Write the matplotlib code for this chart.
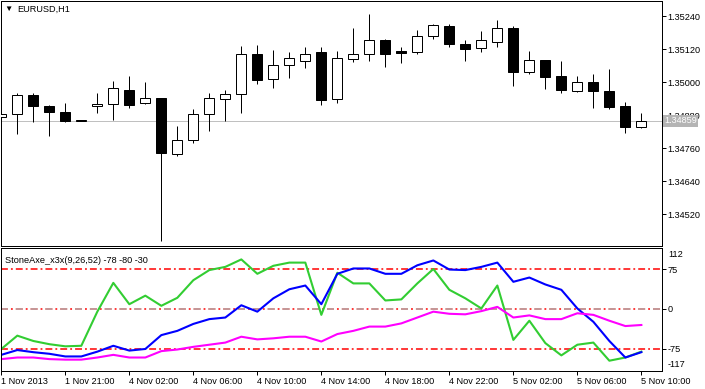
import matplotlib
matplotlib.use("Agg")
import matplotlib.pyplot as plt
import numpy as np

plt.rcParams['font.family'] = ['Liberation Sans', 'DejaVu Sans']

# EURUSD H1 candles (41 bars)
opens = [1.34872, 1.34883, 1.34953, 1.34913, 1.34891, 1.34860, 1.34912, 1.34919, 1.34973, 1.34923,
         1.34941, 1.34739, 1.34788, 1.34883, 1.34939, 1.34955, 1.35101, 1.35010, 1.35061, 1.35075,
         1.35108, 1.34937, 1.35085, 1.35104, 1.35153, 1.35113, 1.35108, 1.35166, 1.35204, 1.35138,
         1.35123, 1.35147, 1.35195, 1.35037, 1.35080, 1.35022, 1.34968, 1.35000, 1.34967, 1.34913,
         1.34837]
highs = [1.34884, 1.34959, 1.34959, 1.34916, 1.34925, 1.34862, 1.34961, 1.35004, 1.35023, 1.35000,
         1.34941, 1.34840, 1.34902, 1.34961, 1.34971, 1.35131, 1.35134, 1.35116, 1.35109, 1.35126,
         1.35126, 1.35113, 1.35196, 1.35247, 1.35155, 1.35127, 1.35189, 1.35212, 1.35211, 1.35153,
         1.35185, 1.35225, 1.35204, 1.35113, 1.35080, 1.35076, 1.35022, 1.35030, 1.35047, 1.34928,
         1.34887]
lows = [1.34870, 1.34813, 1.34856, 1.34804, 1.34856, 1.34860, 1.34888, 1.34862, 1.34907, 1.34919,
        1.34423, 1.34732, 1.34779, 1.34823, 1.34858, 1.34888, 1.34992, 1.34979, 1.35016, 1.35053,
        1.34915, 1.34923, 1.35074, 1.35077, 1.35056, 1.35070, 1.35101, 1.35155, 1.35128, 1.35077,
        1.35108, 1.35128, 1.34987, 1.35030, 1.34976, 1.34959, 1.34965, 1.34907, 1.34903, 1.34816,
        1.34834]
closes = [1.34883, 1.34953, 1.34914, 1.34892, 1.34859, 1.34861, 1.34920, 1.34977, 1.34917, 1.34941,
          1.34741, 1.34788, 1.34883, 1.34941, 1.34956, 1.35104, 1.35008, 1.35061, 1.35086, 1.35104,
          1.34936, 1.35086, 1.35104, 1.35152, 1.35103, 1.35107, 1.35166, 1.35207, 1.35137, 1.35121,
          1.35152, 1.35195, 1.35037, 1.35079, 1.35019, 1.34972, 1.35000, 1.34968, 1.34910, 1.34837,
          1.34859]

# StoneAxe_x3x buffers
green = [-75, -50, -60, -66, -70, -69, -5, 49, 9, 25, 6, 21, 54, 73, 79, 93,
         66, 81, 87, 87, -11, 68, 48, 48, 16, 18, 48, 75, 36, 20,
         1, 44, -58, -22, -64, -87, -67, -63, -97, -91, -80]
blue = [-86, -77, -81, -84, -89, -89, -80, -69, -78, -75, -49, -41, -28, -19, -16, 7,
        -5, 20, 37, 44, 9, 66, 76, 76, 66, 66, 82, 91, 74, 73,
        79, 87, 51, 59, 46, 36, 1, -24, -60, -91, -81]
magenta = [-94, -91, -91, -94, -95, -95, -91, -86, -91, -91, -79, -76, -71, -67, -63, -52,
           -57, -55, -52, -52, -61, -47, -41, -33, -33, -27, -16, -5, -9, -10,
           -4, 4, -16, -12, -19, -19, -8, -11, -22, -32, -30]

price_ticks = [1.35240, 1.35120, 1.35000, 1.34880, 1.34760, 1.34640, 1.34520]
time_labels = ['1 Nov 2013', '1 Nov 21:00', '4 Nov 02:00', '4 Nov 06:00', '4 Nov 10:00',
               '4 Nov 14:00', '4 Nov 18:00', '4 Nov 22:00', '5 Nov 02:00', '5 Nov 06:00',
               '5 Nov 10:00']
last_price = 1.34859

W, H = 705, 389
fig = plt.figure(figsize=(W / 100, H / 100), dpi=100)
px = 0.72  # one pixel in points
fs = 6.6

ax1 = fig.add_axes([1 / W, (H - 246) / H, 661 / W, 245 / H])
ax2 = fig.add_axes([1 / W, (H - 371) / H, 661 / W, 123 / H])

x = np.arange(len(opens))
o = np.array(opens); c = np.array(closes)
up = c >= o

ax1.axhline(last_price, color='#c0c0c0', lw=px, zorder=1, antialiased=False)
ax1.vlines(x, lows, highs, color='black', lw=px, zorder=2)
ax1.bar(x, np.maximum(np.abs(c - o), 1e-6), bottom=np.minimum(o, c), width=0.64,
        color=np.where(up, 'white', 'black'), edgecolor='black', lw=px, zorder=3)

ax1.set_xlim(-0.02, 41.29)
ax1.set_ylim(1.34404, 1.35295)
ax1.set_xticks([])
ax1.yaxis.tick_right()
ax1.set_yticks(price_ticks)
ax1.set_yticklabels([f'{p:.5f}' for p in price_ticks], fontsize=fs)
ax1.tick_params(axis='y', length=3, width=px, pad=1.2)
for s in ax1.spines.values():
    s.set_linewidth(px)

ax1.text(1.0 + 2 / 661, last_price, '1.34859', transform=ax1.get_yaxis_transform(),
         fontsize=fs, color='white', va='center', ha='left', zorder=10, clip_on=False,
         bbox=dict(boxstyle='square,pad=0.15', fc='#b4b4b4', ec='none'))
ax1.text(3 / 661, 0.965, '\u25bc', transform=ax1.transAxes, fontsize=6, va='center', ha='left')
ax1.text(16 / 661, 0.965, 'EURUSD,H1', transform=ax1.transAxes, fontsize=fs, va='center', ha='left')

# indicator panel
lw_lvl = 1.1
dashdot = (0, (4.5, 2, 1.2, 2))
ax2.axhline(75, color='#ff0000', lw=lw_lvl, ls=dashdot)
ax2.axhline(-75, color='#ff0000', lw=lw_lvl, ls=dashdot)
ax2.axhline(0, color='#ff0000', lw=lw_lvl, ls=dashdot)
ax2.axhline(0, color='#b4b4b4', lw=lw_lvl, ls=(0, (4.5, 5.2)))
ax2.plot(x, green, color='#32cd32', lw=1.5)
ax2.plot(x, blue, color='#0000ff', lw=1.5)
ax2.plot(x, magenta, color='#ff00ff', lw=1.5)

ax2.set_xlim(-0.02, 41.29)
ax2.set_ylim(-116.3, 114.4)
ax2.yaxis.tick_right()
ax2.set_yticks([75, 0, -75])
ax2.set_yticklabels(['75', '0', '-75'], fontsize=fs)
ax2.tick_params(axis='y', length=3, width=px, pad=1.2)
ax2.text(1.0 + 6 / 661, 103, '112', transform=ax2.get_yaxis_transform(), fontsize=fs,
         va='center', ha='left', clip_on=False)
ax2.text(1.0 + 6 / 661, -105, '-117', transform=ax2.get_yaxis_transform(), fontsize=fs,
         va='center', ha='left', clip_on=False)
ax2.set_xticks(np.arange(0, 41, 4))
ax2.set_xticklabels(time_labels, fontsize=fs, ha='left')
ax2.tick_params(axis='x', length=3, width=px, pad=1.5)
for s in ax2.spines.values():
    s.set_linewidth(px)
ax2.text(4 / 661, 0.9, 'StoneAxe_x3x(9,26,52) -78 -80 -30', transform=ax2.transAxes,
         fontsize=fs, va='center', ha='left')

fig.savefig('out.png', dpi=100)
